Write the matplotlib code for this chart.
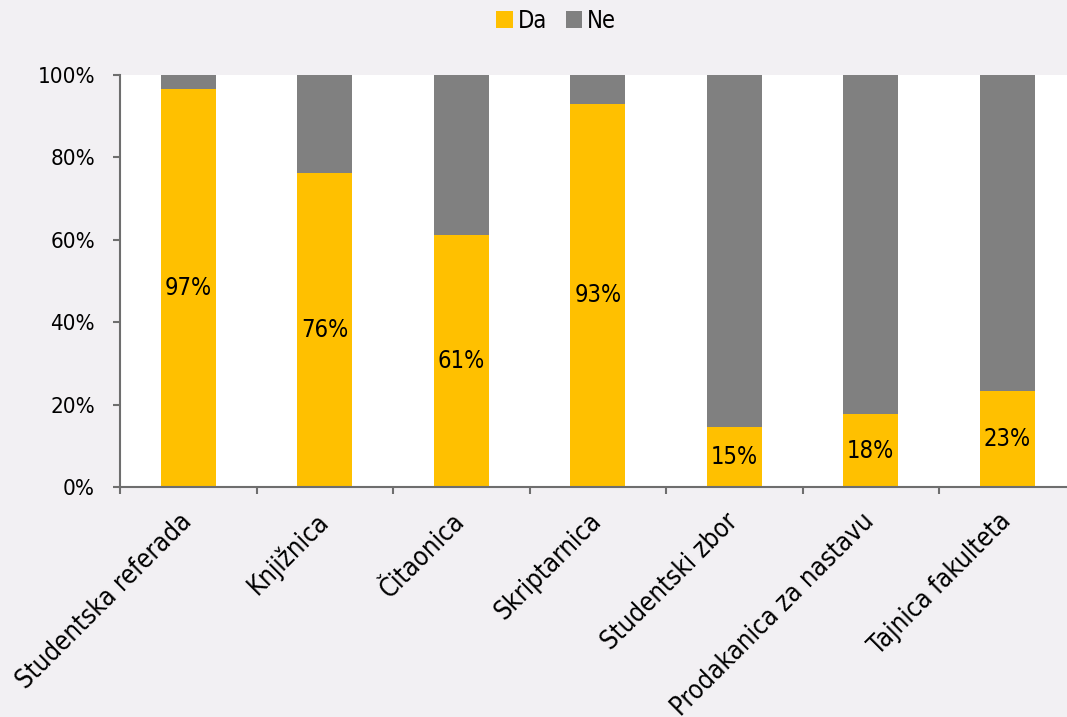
import matplotlib
matplotlib.use('Agg')
from matplotlib import pyplot as plt
import numpy as np

# data
categories = ['Studentska referada', 'Knjižnica', 'Čitaonica', 'Skriptarnica',
              'Studentski zbor', 'Prodakanica za nastavu', 'Tajnica fakulteta']
da = [96.6, 76.2, 61.2, 93.0, 14.6, 17.7, 23.4]
ne = [100 - v for v in da]

bg = '#F2F0F3'
yellow = '#FFC000'
grey = '#808080'
axcol = '#6E6E6E'

plt.rcParams['font.family'] = ['DejaVu Sans']
plt.rcParams['font.stretch'] = 'condensed'

W, H = 1067, 717
fig = plt.figure(figsize=(W / 100, H / 100), dpi=100, facecolor=bg)
x0, x1, y0, y1 = 120, 1067, 75, 487
ax = fig.add_axes([x0 / W, 1 - y1 / H, (x1 - x0) / W, (y1 - y0) / H])
ax.set_facecolor('white')

x = np.arange(len(categories))
da_f = np.array(da) / 100
ne_f = np.array(ne) / 100
b1 = ax.bar(x, da_f, width=0.4, color=yellow, label='Da', zorder=2)
b2 = ax.bar(x, ne_f, width=0.4, bottom=da_f, color=grey, label='Ne', zorder=2)

for xi, v in zip(x, da):
    ax.text(xi, v / 200, '{}%'.format(int(round(v))), ha='center', va='center',
            fontsize=17, color='black')

ax.set_yticks(np.linspace(0, 1, 6))
ax.set_yticklabels(['{}%'.format(int(v)) for v in np.linspace(0, 100, 6)], fontsize=16)
ax.set_xticks(x)
ax.set_xticklabels(categories, rotation=45, ha='right', va='center',
                   rotation_mode='anchor', fontsize=18.5)
ax.set_xticks(np.arange(len(categories) + 1) - 0.5, minor=True)
ax.tick_params(axis='x', which='major', length=0, pad=22)
ax.tick_params(axis='x', which='minor', length=5, color=axcol, width=1.5)
ax.tick_params(axis='y', length=5, color=axcol, width=1.5, pad=13)

# limits after ticks, plot area is cut at the right edge
step = 136.5
ax.set_xlim(-0.5, -0.5 + (x1 - x0) / step)
ax.set_ylim(0, 1)

for s in ['top', 'right']:
    ax.spines[s].set_visible(False)
for s in ['left', 'bottom']:
    ax.spines[s].set_color(axcol)
    ax.spines[s].set_linewidth(1.5)

fig.legend(handles=[b1, b2], loc='center', bbox_to_anchor=(556 / W, 1 - 21 / H),
           ncol=2, frameon=False, fontsize=17, handlelength=0.7, handleheight=0.7,
           handletextpad=0.2, columnspacing=0.8)

fig.savefig('out.png', dpi=100, facecolor=bg)
